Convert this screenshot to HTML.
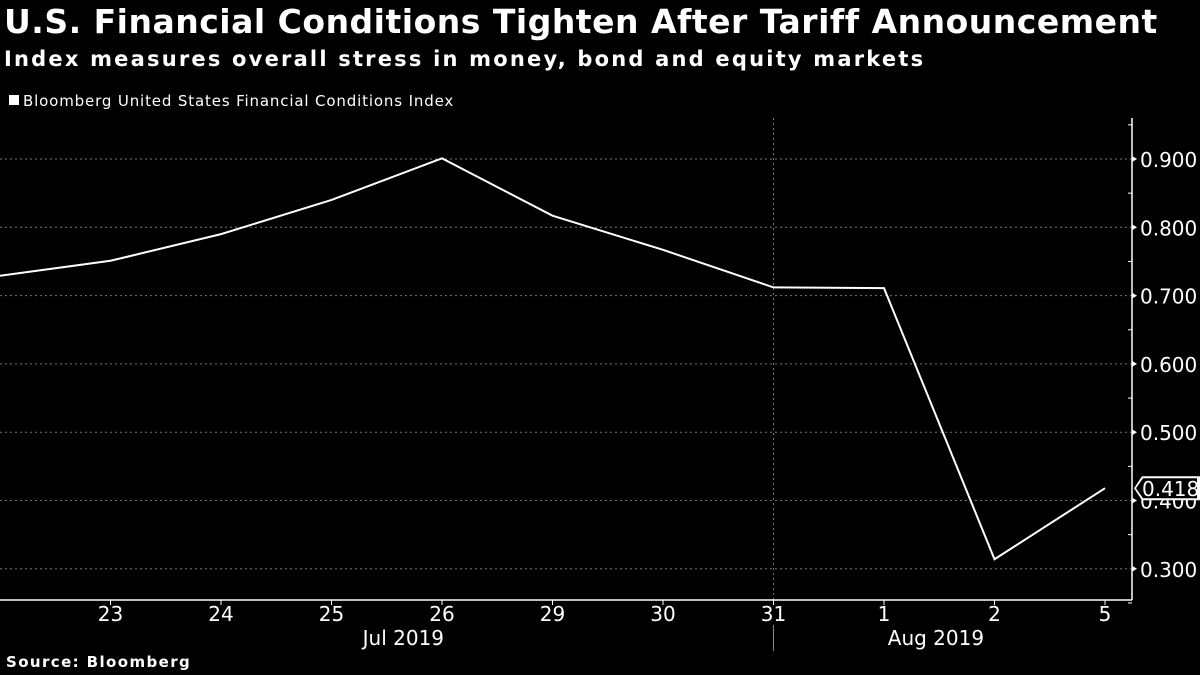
<!DOCTYPE html>
<html><head><meta charset="utf-8"><style>
body{margin:0;background:#000;width:1200px;height:675px;overflow:hidden;font-family:"Liberation Sans","DejaVu Sans",sans-serif;color:#fff}
.t{position:absolute;left:4px;top:2px;font:bold 33px "DejaVu Sans",sans-serif;letter-spacing:0.5px;white-space:nowrap}
.s{position:absolute;left:4px;top:47px;font:bold 21px "DejaVu Sans",sans-serif;letter-spacing:2.2px;white-space:nowrap}
.src{position:absolute;left:6px;top:653px;font:bold 15px "DejaVu Sans",sans-serif;letter-spacing:1.4px}
</style></head><body>
<div class="t">U.S. Financial Conditions Tighten After Tariff Announcement</div>
<div class="s">Index measures overall stress in money, bond and equity markets</div>
<svg id="c" width="1200" height="675" style="position:absolute;left:0;top:0"></svg>
<div class="src">Source: Bloomberg</div>
<script>
const categories=["22","23","24","25","26","29","30","31","1","2","5"];
const values=[0.729,0.751,0.790,0.840,0.901,0.817,0.767,0.712,0.711,0.314,0.418];
const yTicks=[0.3,0.4,0.5,0.6,0.7,0.8,0.9];
const months=["Jul 2019","Aug 2019"];
const svg=document.getElementById('c');const NS='http://www.w3.org/2000/svg';
function mk(t,a,p){const e=document.createElementNS(NS,t);for(const k in a)e.setAttribute(k,a[k]);(p||svg).appendChild(e);return e;}
const x=i=>i*110.5;
const y=v=>159+(0.9-v)*683;
const AX=1132,BASE=600,TOP=118;
let lg=mk('rect',{x:9,y:95,width:10,height:10,fill:'#fff'});

let lt=mk('text',{x:23,y:106,fill:'#fff','font-size':15,'letter-spacing':0.85,'font-family':'DejaVu Sans, sans-serif'});lt.textContent='Bloomberg United States Financial Conditions Index';

yTicks.forEach(v=>{
 const g=mk('line',{x1:0,x2:AX,y1:y(v),y2:y(v),stroke:'#777','stroke-dasharray':'2,3','stroke-width':1});
 
 mk('path',{d:`M${AX} ${y(v)-3}L${AX+5} ${y(v)}L${AX} ${y(v)+3}Z`,fill:'#fff'});
 const t=mk('text',{x:AX+8,y:y(v)+8,fill:'#fff','font-size':20,'font-family':'DejaVu Sans, sans-serif'});t.textContent=v.toFixed(3);
 
});
for(let v=0.25;v<0.97;v+=0.1){mk('line',{x1:AX-4,x2:AX,y1:y(v),y2:y(v),stroke:'#fff'});}
let ya=mk('line',{x1:AX,x2:AX,y1:TOP,y2:BASE,stroke:'#fff','stroke-width':1.5});

const div=7;
mk('line',{x1:x(div),x2:x(div),y1:TOP,y2:BASE,stroke:'#777','stroke-dasharray':'2,3'});
mk('line',{x1:x(div),x2:x(div),y1:625,y2:651,stroke:'#888'});
let xa=mk('line',{x1:0,x2:AX,y1:BASE,y2:BASE,stroke:'#fff','stroke-width':1.5});

categories.forEach((c,i)=>{
 if(i===0)return;
 mk('line',{x1:x(i),x2:x(i),y1:BASE,y2:BASE+5,stroke:'#fff'});
 const t=mk('text',{x:x(i),y:621,fill:'#fff','font-size':20,'text-anchor':'middle','font-family':'DejaVu Sans, sans-serif'});t.textContent=c;
 
});
[[3.65,months[0]],[8.47,months[1]]].forEach(([p,m])=>{
 const t=mk('text',{x:x(p),y:645,fill:'#fff','font-size':20,'text-anchor':'middle','font-family':'DejaVu Sans, sans-serif'});t.textContent=m;
 
});
const ln=mk('polyline',{points:values.map((v,i)=>x(i)+','+y(v)).join(' '),fill:'none',stroke:'#fff','stroke-width':2});

const lv=values[values.length-1],ly=y(lv);
const cb=mk('path',{d:`M${AX+2} ${ly}L${AX+10} ${ly-12}H1200V${ly+12}H${AX+10}Z`,fill:'#fff'});

mk('path',{d:`M${AX+4} ${ly}L${AX+11} ${ly-10}H1197V${ly+10}H${AX+11}Z`,fill:'#000'});
const ct=mk('text',{x:AX+10,y:ly+8,fill:'#fff','font-size':20,'font-family':'DejaVu Sans, sans-serif'});ct.textContent=lv.toFixed(3);

</script>
</body></html>
